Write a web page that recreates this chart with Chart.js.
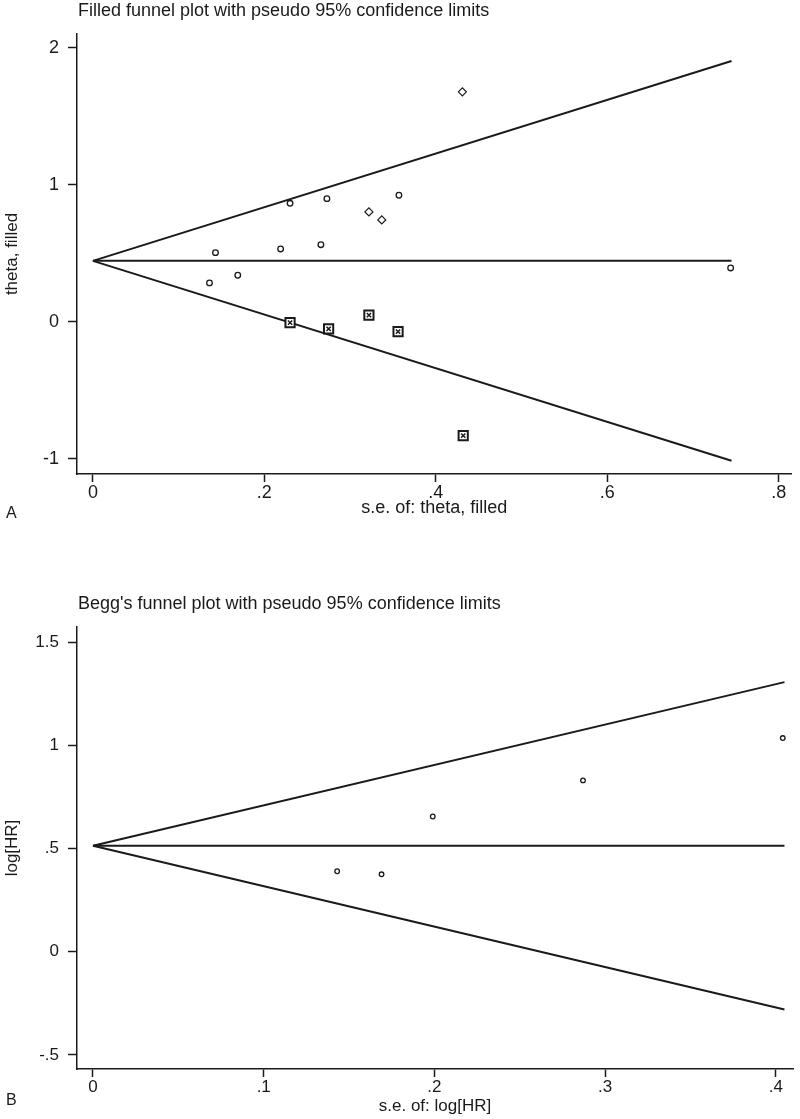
<!DOCTYPE html>
<html>
<head>
<meta charset="utf-8">
<script src="https://cdn.jsdelivr.net/npm/chart.js@4/dist/chart.umd.min.js"></script>
<style>
  html, body { margin: 0; padding: 0; background: #fff; }
  #wrap { position: relative; width: 800px; height: 1119px; }
  .panel { position: absolute; left: 0; width: 800px; }
</style>
</head>
<body>
<div id="wrap">
  <div class="panel" style="top:0;height:560px"><canvas id="chartA"></canvas></div>
  <div class="panel" style="top:560px;height:559px"><canvas id="chartB"></canvas></div>
</div>
<script>
// Panel A: filled funnel plot (trim and fill)
const seObsA     = [0.136, 0.143, 0.169, 0.219, 0.230, 0.266, 0.273, 0.357, 0.744];
const thetaObsA  = [0.285, 0.506, 0.341, 0.533, 0.866, 0.564, 0.900, 0.925, 0.394];
const seDiaA     = [0.322, 0.337, 0.431];
const thetaDiaA  = [0.803, 0.745, 1.680];
const seFillA    = [0.230, 0.275, 0.322, 0.356, 0.432];
const thetaFillA = [-0.005, -0.050, 0.050, -0.070, -0.830];
const funnelSeA    = [0, 0.745];
const funnelUpperA = [0.446, 1.905];
const funnelLowerA = [0.446, -1.013];
const funnelMidA   = [0.446, 0.446];
const xTicksA = [0, 0.2, 0.4, 0.6, 0.8];
const yTicksA = [-1, 0, 1, 2];

// Panel B: Begg's funnel plot
const seB     = [0.143, 0.169, 0.199, 0.287, 0.404];
const logHrB  = [0.390, 0.375, 0.655, 0.830, 1.035];
const funnelSeB    = [0, 0.405];
const funnelUpperB = [0.513, 1.306];
const funnelLowerB = [0.513, -0.280];
const funnelMidB   = [0.513, 0.513];
const xTicksB = [0, 0.1, 0.2, 0.3, 0.4];
const yTicksB = [-0.5, 0, 0.5, 1, 1.5];

const ink = '#1a1a1a';
const sans = "'Liberation Sans', Arial, sans-serif";
const narrow = "'Liberation Sans Narrow', 'Liberation Sans', Arial, sans-serif";

// stata style labels: .2 instead of 0.2
const fmt = v => String(+v.toFixed(2)).replace(/^(-?)0\./, '$1.');
const pts = (xs, ys) => xs.map((x, i) => ({ x: x, y: ys[i] }));

// title above the plot region + panel letter
const panelText = {
  id: 'panelText',
  afterDraw(chart, args, o) {
    const ctx = chart.ctx;
    ctx.save();
    ctx.fillStyle = ink;
    ctx.textBaseline = 'middle';
    ctx.font = o.titleSize + 'px ' + sans;
    ctx.fillText(o.title, chart.chartArea.left + 1, o.titleY);
    ctx.font = o.letterSize + 'px ' + sans;
    ctx.fillText(o.letter, o.letterX, o.letterY);
    ctx.restore();
  }
};

function lineSet(xs, ys) {
  return { data: pts(xs, ys), showLine: true, pointRadius: 0, borderColor: ink, borderWidth: 2, fill: false };
}

function makeScales(c) {
  return {
    x: {
      type: 'linear', min: c.xMin, max: c.xMax,
      afterBuildTicks: s => { s.ticks = c.xTicks.map(v => ({ value: v })); },
      afterFit: s => { s.height = c.xH; s.paddingLeft = 0; s.paddingRight = 0; },
      border: { display: true, color: ink, width: 1.5 },
      grid: { display: true, drawOnChartArea: false, drawTicks: true, tickLength: 8, tickWidth: 1.5, tickColor: ink },
      ticks: { color: ink, padding: 0, maxRotation: 0, autoSkip: false, font: { family: narrow, size: c.xTickSize }, callback: v => fmt(v) },
      title: { display: true, text: c.xTitle, color: ink, font: { family: narrow, size: c.xTitleSize }, padding: 0 }
    },
    y: {
      type: 'linear', min: c.yMin, max: c.yMax,
      afterBuildTicks: s => { s.ticks = c.yTicks.map(v => ({ value: v })); },
      afterFit: s => { s.width = 77; s.paddingTop = 0; s.paddingBottom = 0; },
      border: { display: true, color: ink, width: 1.5 },
      grid: { display: true, drawOnChartArea: false, drawTicks: true, tickLength: 9, tickWidth: 1.5, tickColor: ink },
      ticks: { color: ink, padding: 9, autoSkip: false, font: { family: sans, size: c.yTickSize }, callback: v => fmt(v) },
      title: { display: true, text: c.yTitle, color: ink, font: { family: sans, size: c.yTitleSize }, padding: { top: 2, bottom: 0 } }
    }
  };
}

const common = {
  responsive: true,
  maintainAspectRatio: false,
  animation: false,
  events: [],
  plugins: { legend: { display: false }, tooltip: { enabled: false } }
};

// Panel A
new Chart(document.getElementById('chartA'), {
  type: 'scatter',
  plugins: [panelText],
  data: {
    datasets: [
      { data: pts(seFillA, thetaFillA), pointStyle: 'crossRot', pointRadius: 3, borderColor: ink, borderWidth: 1.5, backgroundColor: ink },
      { data: pts(seFillA, thetaFillA), pointStyle: 'rect', pointRadius: 6.5, borderColor: ink, borderWidth: 2, backgroundColor: '#fff' },
      { data: pts(seObsA, thetaObsA), pointStyle: 'circle', pointRadius: 2.8, borderColor: ink, borderWidth: 1.3, backgroundColor: '#fff' },
      { data: pts(seDiaA, thetaDiaA), pointStyle: 'rectRot', pointRadius: 4, borderColor: ink, borderWidth: 1.2, backgroundColor: '#fff' },
      lineSet(funnelSeA, funnelMidA),
      lineSet(funnelSeA, funnelUpperA),
      lineSet(funnelSeA, funnelLowerA)
    ]
  },
  options: Object.assign({}, common, {
    layout: { padding: { top: 34, left: 0, right: 4, bottom: 560 - 474 - 45 } },
    scales: makeScales({
      xMin: -0.01855, xMax: 0.815, xTicks: xTicksA, xH: 45, xTickSize: 18, xTitleSize: 18,
      xTitle: 's.e. of: theta, filled',
      yMin: -1.11, yMax: 2.102, yTicks: yTicksA, yTickSize: 18, yTitleSize: 17,
      yTitle: 'theta, filled'
    }),
    plugins: Object.assign({}, common.plugins, {
      panelText: { title: 'Filled funnel plot with pseudo 95% confidence limits', titleY: 11, titleSize: 18,
                   letter: 'A', letterX: 6, letterY: 514, letterSize: 16 }
    })
  })
});

// Panel B
new Chart(document.getElementById('chartB'), {
  type: 'scatter',
  plugins: [panelText],
  data: {
    datasets: [
      { data: pts(seB, logHrB), pointStyle: 'circle', pointRadius: 2.3, borderColor: ink, borderWidth: 1.3, backgroundColor: '#fff' },
      lineSet(funnelSeB, funnelMidB),
      lineSet(funnelSeB, funnelUpperB),
      lineSet(funnelSeB, funnelLowerB)
    ]
  },
  options: Object.assign({}, common, {
    layout: { padding: { top: 67, left: 0, right: 7, bottom: 559 - 509 - 48 } },
    scales: makeScales({
      xMin: -0.00937, xMax: 0.41, xTicks: xTicksB, xH: 48, xTickSize: 17, xTitleSize: 17,
      xTitle: 's.e. of: log[HR]',
      yMin: -0.568, yMax: 1.573, yTicks: yTicksB, yTickSize: 17, yTitleSize: 17,
      yTitle: 'log[HR]'
    }),
    plugins: Object.assign({}, common.plugins, {
      panelText: { title: "Begg's funnel plot with pseudo 95% confidence limits", titleY: 44, titleSize: 18,
                   letter: 'B', letterX: 6, letterY: 541, letterSize: 16 }
    })
  })
});
</script>
</body>
</html>
